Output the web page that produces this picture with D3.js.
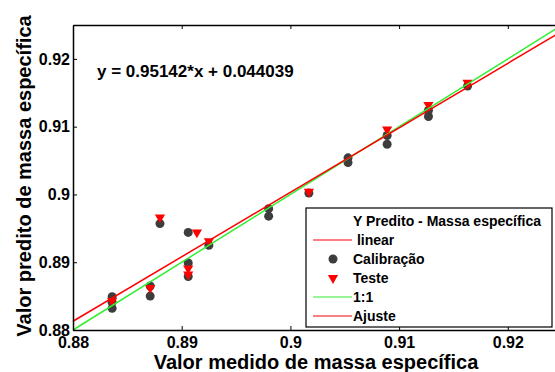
<!DOCTYPE html>
<html>
<head>
<meta charset="utf-8">
<script src="https://cdn.jsdelivr.net/npm/d3@7"></script>
<style>
  body { margin: 0; background: #fff; }
  svg { display: block; font-family: Arial, 'Liberation Sans', sans-serif; font-weight: bold; }
</style>
</head>
<body>
<div id="chart"></div>
<script>
// valores
const calibX = [0.8836, 0.8836, 0.8836, 0.8871, 0.8871, 0.8880, 0.8906, 0.8906, 0.8906, 0.8925,
  0.8980, 0.8980, 0.9017, 0.9053, 0.9053, 0.9089, 0.9089, 0.9127, 0.9127, 0.9163];
const calibY = [0.8849, 0.8832, 0.8841, 0.8865, 0.8850, 0.8957, 0.8944, 0.8899, 0.8879, 0.8925,
  0.8979, 0.8968, 0.9002, 0.9054, 0.9047, 0.9087, 0.9074, 0.9124, 0.9115, 0.9160];
const testeX = [0.8836, 0.8871, 0.8880, 0.8914, 0.8906, 0.8906, 0.8925, 0.9017, 0.9089, 0.9127, 0.9163];
const testeY = [0.8843, 0.8862, 0.8966, 0.8944, 0.8891, 0.8882, 0.8931, 0.9004, 0.9096, 0.9132, 0.9165];
const slope = 0.95142;
const intercept = 0.044039;
const xTicks = [0.88, 0.89, 0.9, 0.91, 0.92];
const yTicks = [0.88, 0.89, 0.9, 0.91, 0.92];
const domain = [0.88, 0.925];
const legendLabels = ['Y Predito - Massa específica', ' linear', 'Calibração', 'Teste', '1:1', 'Ajuste'];

const width = 555, height = 372;
const mLeft = 73, mTop = 25, mBottom = 330;

const svg = d3.select('#chart').append('svg')
  .attr('width', width)
  .attr('height', height);

const x = d3.scaleLinear().domain(domain).range([mLeft, mLeft + 0.045 * 10870]);
const y = d3.scaleLinear().domain(domain).range([mBottom, mTop]);
const fmt = d => String(+d.toFixed(2));

// pontos
const calib = calibX.map((v, i) => [v, calibY[i]]);
const teste = testeX.map((v, i) => [v, testeY[i]]);

svg.append('g').selectAll('circle')
  .data(calib)
  .enter()
  .append('circle')
  .attr('cx', d => x(d[0]))
  .attr('cy', d => y(d[1]))
  .attr('r', 4.5)
  .attr('fill', '#3d3d3d');

const tri = d3.symbol(d3.symbolTriangle).size(45);
svg.append('g').selectAll('path')
  .data(teste)
  .enter()
  .append('path')
  .attr('d', tri)
  .attr('transform', d => `translate(${x(d[0])},${y(d[1])}) rotate(180)`)
  .attr('fill', '#ff0000');

// linhas
const line = d3.line().x(d => x(d[0])).y(d => y(d[1]));
svg.append('path')
  .datum(domain.map(v => [v, v]))
  .attr('d', line)
  .attr('stroke', '#33ee33')
  .attr('stroke-width', 1.5)
  .attr('fill', 'none');
svg.append('path')
  .datum(domain.map(v => [v, slope * v + intercept]))
  .attr('d', line)
  .attr('stroke', '#ff0000')
  .attr('stroke-width', 1.5)
  .attr('fill', 'none');

// eixos
const xAxis = svg.append('g')
  .attr('transform', `translate(0,${mBottom})`)
  .call(d3.axisBottom(x).tickValues(xTicks).tickFormat(fmt).tickSizeInner(-4).tickSizeOuter(0).tickPadding(7));
const xTop = svg.append('g')
  .attr('transform', `translate(0,${mTop})`)
  .call(d3.axisTop(x).tickValues(xTicks).tickFormat('').tickSizeInner(-4).tickSizeOuter(0));
const yAxis = svg.append('g')
  .attr('transform', `translate(${mLeft},0)`)
  .call(d3.axisLeft(y).tickValues(yTicks).tickFormat(fmt).tickSizeInner(-4).tickSizeOuter(0).tickPadding(3));

[xAxis, xTop, yAxis].forEach(g => {
  g.select('.domain').attr('stroke', '#000').attr('stroke-width', 1.5);
  g.selectAll('.tick line').attr('stroke', '#000');
  g.selectAll('text')
    .attr('fill', '#000')
    .style('font-size', '16px')
    .style('font-family', "Arial, 'Liberation Sans', sans-serif")
    .style('font-weight', 'bold');
});

// equação
svg.append('text')
  .attr('x', 97)
  .attr('y', 77)
  .style('font-size', '17px')
  .text(`y = ${slope}*x + ${intercept}`);

// títulos
svg.append('text')
  .attr('x', 316)
  .attr('y', 369)
  .attr('text-anchor', 'middle')
  .style('font-size', '20px')
  .text('Valor medido de massa específica');
svg.append('text')
  .attr('transform', 'translate(31,176) rotate(-90)')
  .attr('text-anchor', 'middle')
  .style('font-size', '20px')
  .text('Valor predito de massa específica');

// legenda
const lg = svg.append('g');
lg.append('rect')
  .attr('x', 306).attr('y', 208)
  .attr('width', 246).attr('height', 119)
  .attr('fill', '#fff')
  .attr('stroke', '#000')
  .attr('stroke-width', 1.2);
const rowY = i => 221 + i * 19;
lg.selectAll('text')
  .data(legendLabels)
  .enter()
  .append('text')
  .attr('x', 353)
  .attr('y', (d, i) => rowY(i) + 5)
  .style('font-size', '14px')
  .style('white-space', 'pre')
  .text(d => d);
[[1, '#ff0000'], [4, '#33ee33'], [5, '#ee0000']].forEach(([i, c]) => {
  lg.append('line')
    .attr('x1', 313).attr('x2', 352)
    .attr('y1', rowY(i)).attr('y2', rowY(i))
    .attr('stroke', c)
    .attr('stroke-width', 1.2);
});
lg.append('circle')
  .attr('cx', 333).attr('cy', rowY(2))
  .attr('r', 4.5)
  .attr('fill', '#3d3d3d');
lg.append('path')
  .attr('d', tri)
  .attr('transform', `translate(333,${rowY(3)}) rotate(180)`)
  .attr('fill', '#ff0000');
</script>
</body>
</html>
